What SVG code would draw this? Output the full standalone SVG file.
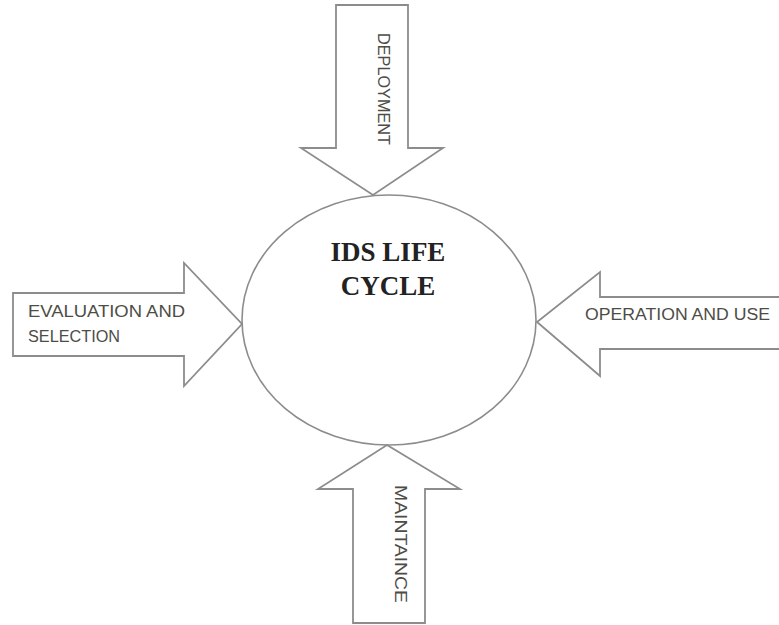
<svg xmlns="http://www.w3.org/2000/svg" width="779" height="625" viewBox="0 0 779 625">
<style>
.arrow{fill:#ffffff;stroke:#8c8c8c;stroke-width:1.8;stroke-linejoin:miter}
.lbl{font-family:"Liberation Sans",Arial,sans-serif;font-size:16px;fill:#4d4d46}
.title{font-family:"Liberation Serif","Times New Roman",serif;font-size:27px;font-weight:bold;fill:#222222;text-anchor:middle}
</style>
<rect width="779" height="625" fill="#ffffff"/>
<g id="connectors">
<g id="arrow-deployment">
<polygon class="arrow" points="336,5 408,5 408,148 443,148 373,195 301,148 336,148"/>
<text class="lbl" transform="translate(378,33) rotate(90)" textLength="112" lengthAdjust="spacingAndGlyphs">DEPLOYMENT</text>
</g>
<g id="arrow-evaluation">
<polygon class="arrow" points="13,293 184,293 184,263 242,324 184,386 184,356 13,356"/>
<text class="lbl" x="28" y="317" textLength="157" lengthAdjust="spacingAndGlyphs">EVALUATION AND</text>
<text class="lbl" x="28" y="342" textLength="92" lengthAdjust="spacingAndGlyphs">SELECTION</text>
</g>
<g id="arrow-operation">
<polygon class="arrow" points="782,297 600,297 600,272 537,322 600,376 600,349 782,349"/>
<text class="lbl" x="585" y="320" textLength="185" lengthAdjust="spacingAndGlyphs">OPERATION AND USE</text>
</g>
<g id="arrow-maintaince">
<polygon class="arrow" points="387,445 460,489 425,489 425,623 353,623 353,489 318,489"/>
<text class="lbl" transform="translate(395,485) rotate(90)" textLength="118" lengthAdjust="spacingAndGlyphs">MAINTAINCE</text>
</g>
</g>
<g id="ids-life-cycle">
<ellipse cx="389" cy="320" rx="147" ry="125" fill="none" stroke="#8c8c8c" stroke-width="1.6"/>
<text class="title" x="388" y="261">IDS LIFE</text>
<text class="title" x="388" y="295">CYCLE</text>
</g>
</svg>
